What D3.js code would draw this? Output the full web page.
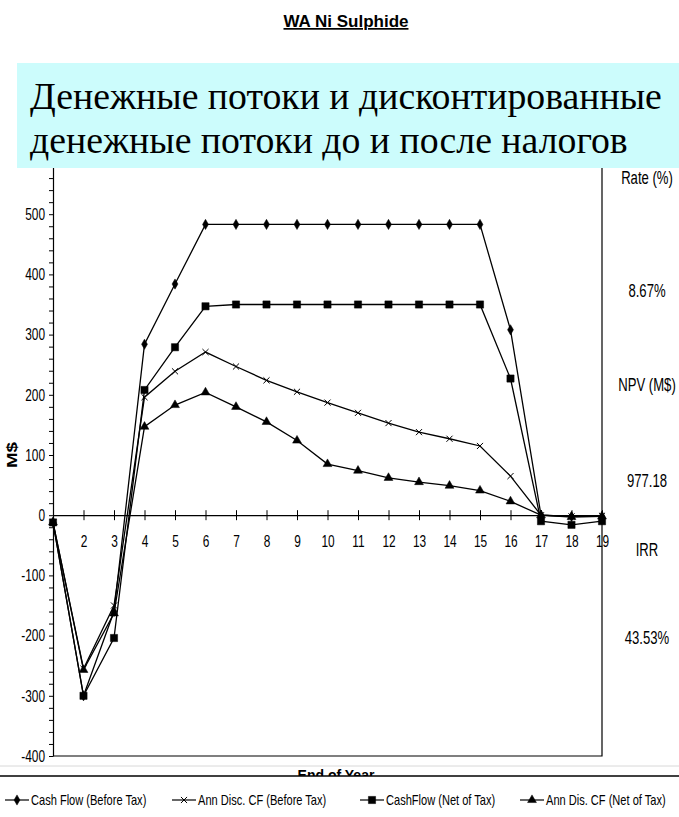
<!DOCTYPE html>
<html>
<head>
<meta charset="utf-8">
<script src="https://cdn.jsdelivr.net/npm/d3@7"></script>
<style>
body { margin: 0; background: #fff; }
svg { display: block; }
</style>
</head>
<body>
<svg id="chart" width="679" height="817"></svg>
<script>
var years = [1, 2, 3, 4, 5, 6, 7, 8, 9, 10, 11, 12, 13, 14, 15, 16, 17, 18, 19];
var cashFlowBefore = [-12, -300, -160, 284, 384, 483, 483, 483, 483, 483, 483, 483, 483, 483, 483, 308, 0, -2, -2];
var discBefore = [-12, -255, -150, 196, 239, 271, 247, 224, 205, 187, 170, 153, 138, 127, 115, 65, 0, -2, -1];
var cashFlowNet = [-12, -300, -204, 208, 279, 347, 350, 350, 350, 350, 350, 350, 350, 350, 350, 227, -10, -16, -10];
var discNet = [-12, -257, -163, 147, 183, 204, 180, 155, 124, 85, 74, 62, 55, 49, 41, 23, 0, -3, -2];
var seriesNames = ["Cash Flow (Before Tax)", "Ann Disc. CF (Before Tax)", "CashFlow (Net of Tax)", "Ann Dis. CF (Net of Tax)"];
var yTickLabels = [-400, -300, -200, -100, 0, 100, 200, 300, 400, 500];
var xTickLabels = [2, 3, 4, 5, 6, 7, 8, 9, 10, 11, 12, 13, 14, 15, 16, 17, 18, 19];
var sideLabels = ["Rate (%)", "8.67%", "NPV (M$)", "977.18", "IRR", "43.53%"];
var titleText = "WA Ni Sulphide";
var boxLines = ["Денежные потоки и дисконтированные", "денежные потоки до и после налогов"];

/* no narrow font installed: squeeze Liberation Sans instead */
var sans = "'Liberation Sans', Arial, sans-serif";
var sx = 0.82, sy = 1.15;
var stretch = "scale(" + sx + "," + sy + ")";

var svg = d3.select("#chart");
svg.append("rect").attr("width", 679).attr("height", 817).attr("fill", "#fff");

var plotLeft = 53, plotRight = 602, plotTop = 154, plotBottom = 756;
var x = d3.scaleLinear().domain([1, 19]).range([plotLeft, plotRight]);
var y = d3.scaleLinear().domain([-400, 600]).range([plotBottom, plotTop]);

/* frame: bottom and right border */
svg.append("path")
    .attr("d", "M" + plotLeft + "," + plotBottom + "H" + plotRight + "V" + plotTop)
    .attr("fill", "none").attr("stroke", "#000").attr("stroke-width", 1.2);

/* y axis, minor ticks every 20 */
var yAxis = svg.append("g")
    .attr("transform", "translate(" + plotLeft + ",0)")
    .call(d3.axisLeft(y)
        .tickValues(d3.range(-400, 601, 20))
        .tickSize(4).tickSizeOuter(0)
        .tickFormat(function (d) { return yTickLabels.indexOf(d) >= 0 ? d : ""; }));
yAxis.select(".domain").attr("stroke-width", 1.2);
yAxis.selectAll("text")
    .attr("font-family", sans).attr("font-size", 14.5).attr("fill", "#000")
    .attr("x", -8 / sx)
    .attr("transform", stretch);

/* x axis on the zero line, ticks cross the line */
var xAxis = svg.append("g")
    .attr("transform", "translate(0," + y(0) + ")")
    .call(d3.axisBottom(x).tickValues(xTickLabels).tickSize(5).tickSizeOuter(0));
xAxis.select(".domain").attr("stroke-width", 1.2);
xAxis.selectAll(".tick").append("line").attr("y2", -5).attr("stroke", "#000");
xAxis.selectAll("text")
    .attr("font-family", sans).attr("font-size", 14.5).attr("fill", "#000")
    .attr("y", 20 / sy)
    .attr("transform", stretch);

var series = [
    { name: seriesNames[0], values: cashFlowBefore, symbol: d3.symbolDiamond, size: 30, filled: true },
    { name: seriesNames[1], values: discBefore, symbol: d3.symbolTimes, size: 26, filled: false },
    { name: seriesNames[2], values: cashFlowNet, symbol: d3.symbolSquare, size: 52, filled: true },
    { name: seriesNames[3], values: discNet, symbol: d3.symbolTriangle, size: 34, filled: true }
];

var line = d3.line()
    .x(function (d, i) { return x(years[i]); })
    .y(function (d) { return y(d); });

function drawMarker(g, s) {
    g.append("path")
        .attr("d", d3.symbol().type(s.symbol).size(s.size)())
        .attr("fill", s.filled ? "#000" : "none")
        .attr("stroke", "#000")
        .attr("stroke-width", s.filled ? 0.5 : 1);
}

series.forEach(function (s) {
    svg.append("path")
        .attr("d", line(s.values))
        .attr("fill", "none")
        .attr("stroke", "#000")
        .attr("stroke-width", 1.3);
    s.values.forEach(function (v, i) {
        var g = svg.append("g").attr("transform", "translate(" + x(years[i]) + "," + y(v) + ")");
        drawMarker(g, s);
    });
});

/* side panel text */
var sideY = [178, 291, 385, 481, 550, 638];
sideLabels.forEach(function (t, i) {
    svg.append("g")
        .attr("transform", "translate(647," + sideY[i] + ") " + stretch)
        .append("text")
        .attr("text-anchor", "middle")
        .attr("dy", "0.35em")
        .attr("font-family", sans).attr("font-size", 16)
        .text(t);
});

/* M$ label */
svg.append("text")
    .attr("transform", "translate(17,455) rotate(-90) scale(1.25,1)")
    .attr("text-anchor", "middle")
    .attr("font-family", sans)
    .attr("font-weight", "bold").attr("font-size", 15)
    .text("M$");

/* cyan overlay box */
svg.append("rect")
    .attr("x", 17).attr("y", 63).attr("width", 662).attr("height", 105)
    .attr("fill", "#ccfcfc");
var boxText = boxLines.map(function (t, i) {
    return svg.append("text")
        .attr("x", 30).attr("y", i == 0 ? 109 : 153)
        .attr("font-family", "'Liberation Serif', 'Times New Roman', serif")
        .attr("font-size", 36)
        .attr("fill", "#000")
        .text(t);
});
var w0 = boxText[0].node().getComputedTextLength();
var fs = 36 * 632 / w0;
boxText.forEach(function (t) { t.attr("font-size", fs); });

/* title */
svg.append("text")
    .attr("x", 346).attr("y", 27)
    .attr("text-anchor", "middle")
    .attr("font-family", sans)
    .attr("font-weight", "bold").attr("font-size", 17)
    .attr("text-decoration", "underline")
    .text(titleText);

/* x axis title, cut by the legend strip */
svg.append("line").attr("x1", 0).attr("x2", 679).attr("y1", 766).attr("y2", 766)
    .attr("stroke", "#d8d8d8");
svg.append("text")
    .attr("x", 336).attr("y", 780)
    .attr("text-anchor", "middle")
    .attr("font-family", sans)
    .attr("font-weight", "bold").attr("font-size", 14)
    .text("End of Year");
svg.append("rect").attr("x", 0).attr("y", 776).attr("width", 679).attr("height", 41).attr("fill", "#fff");
svg.append("line").attr("x1", 0).attr("x2", 679).attr("y1", 776).attr("y2", 776)
    .attr("stroke", "#000").attr("stroke-width", 1.5);

/* legend */
var legendX = [5, 172, 360, 520];
series.forEach(function (s, i) {
    var g = svg.append("g").attr("transform", "translate(" + legendX[i] + ",800)");
    g.append("line").attr("x1", 0).attr("x2", 24).attr("stroke", "#000").attr("stroke-width", 1.2);
    var m = g.append("g").attr("transform", "translate(12,0)");
    drawMarker(m, s);
    g.append("g").attr("transform", "translate(26,0) " + stretch)
        .append("text")
        .attr("dy", "0.35em")
        .attr("font-family", sans).attr("font-size", 13.5)
        .text(s.name);
});
</script>
</body>
</html>
